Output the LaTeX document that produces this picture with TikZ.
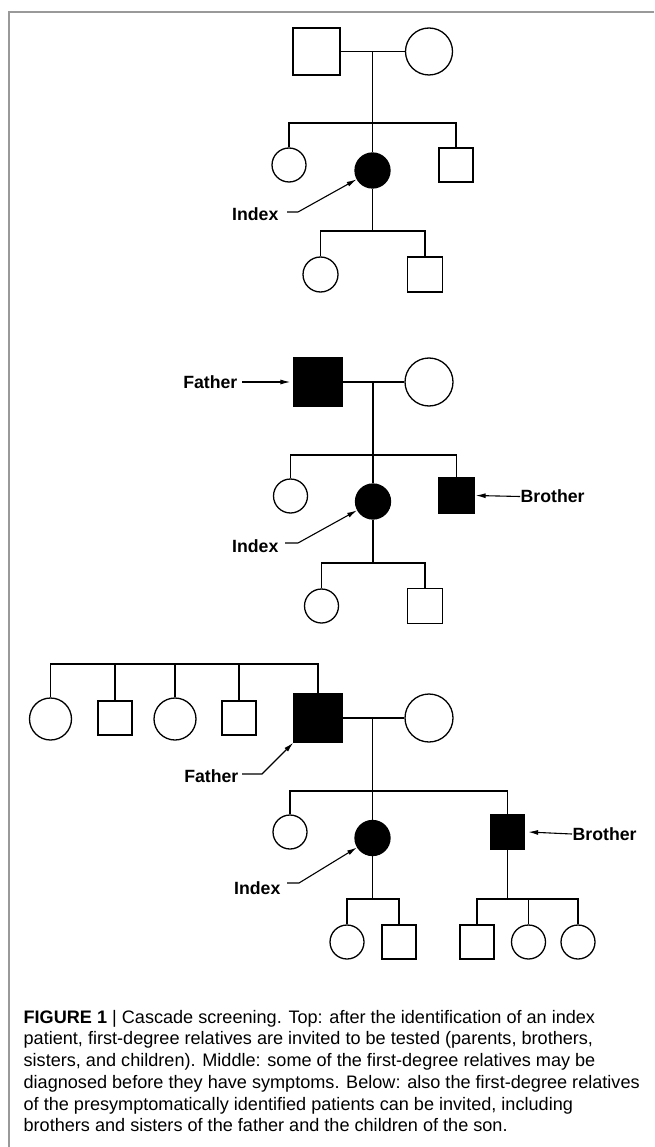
\documentclass[tikz,border=0pt]{standalone}
\usepackage{fontspec}
\setmainfont{Liberation Sans}
\usetikzlibrary{arrows.meta}

\begin{document}
\begin{tikzpicture}[x=1pt,y=-1pt,line width=1.3pt,
    male/.style={draw,rectangle,inner sep=0pt,minimum size=34pt},
    female/.style={draw,circle,inner sep=0pt,minimum size=34pt},
    sick/.style={fill=black},
    tag/.style={inner sep=0pt,font=\fontsize{17.7}{20}\selectfont\bfseries},
    pointer/.style={-{Latex[length=10pt,width=5pt]},line width=1.1pt}]
  \useasboundingbox (0,0) rectangle (654,1147);
  \draw[gray!80,line width=1.5pt] (654,12) -- (9,12) -- (9,1147);

  % top: index patient only
  \node[male,minimum size=47pt] (t-fa) at (316.5,51.5) {};
  \node[female,minimum size=47pt] (t-mo) at (429,51.5) {};
  \node[female] (t-sis) at (289,165) {};
  \node[female,sick,minimum size=35pt] (t-idx) at (372.5,170.5) {};
  \node[male] (t-bro) at (456,165) {};
  \node[female,minimum size=35pt] (t-c1) at (320.5,274.5) {};
  \node[male,minimum size=35pt] (t-c2) at (425,274.5) {};
  \coordinate (t-mar) at (372.5,51.5);
  \coordinate (t-sib) at (372.5,123);
  \coordinate (t-kid) at (372.5,231);
  \draw (t-fa) -- (t-mo);
  \draw (t-mar) -- (t-idx);
  \draw (t-sis.north) |- (t-sib) -| (t-bro.north);
  \draw (t-idx) -- (t-kid);
  \draw (t-c1.north) |- (t-kid) -| (t-c2.north);
  \node[tag,anchor=east] (t-lbl) at (279,214) {Index};
  \draw[pointer] ([xshift=8pt,yshift=2pt]t-lbl.east) -- ++(11,0) -- (t-idx);

  % middle: father and brother found too
  \node[male,sick,minimum size=48pt] (m-fa) at (318,382) {};
  \node[female,minimum size=48pt] (m-mo) at (429,382) {};
  \node[female] (m-sis) at (290.5,496) {};
  \node[female,sick,minimum size=35pt] (m-idx) at (373,501.5) {};
  \node[male,sick,minimum size=35pt] (m-bro) at (456.5,495.5) {};
  \node[female] (m-c1) at (321.5,606) {};
  \node[male,minimum size=35pt] (m-c2) at (425,606) {};
  \coordinate (m-mar) at (373,382);
  \coordinate (m-sib) at (373,455);
  \coordinate (m-kid) at (373,563);
  \draw (m-fa) -- (m-mo);
  \draw (m-mar) -- (m-idx);
  \draw (m-sis.north) |- (m-sib) -| (m-bro.north);
  \draw (m-idx) -- (m-kid);
  \draw (m-c1.north) |- (m-kid) -| (m-c2.north);
  \node[tag,anchor=east] (m-lbl) at (279,546) {Index};
  \draw[pointer] ([xshift=6pt,yshift=3pt]m-lbl.east) -- ++(13,0) -- (m-idx);
  \node[tag,anchor=east] (m-flbl) at (238,382) {Father};
  \draw[pointer,shorten >=3pt] ([xshift=4pt]m-flbl.east) -- (m-fa.west);
  \node[tag,anchor=west] (m-blbl) at (520,496.5) {Brother};
  \draw[pointer] (m-blbl.west) -- ([xshift=1pt]m-bro.east);

  % bottom: relatives of father and brother
  \node[female,minimum size=42pt] (b-a1) at (50.5,719) {};
  \node[male] (b-a2) at (115,718) {};
  \node[female,minimum size=42pt] (b-a3) at (175,719) {};
  \node[male] (b-a4) at (239,718) {};
  \node[male,sick,minimum size=48pt] (b-fa) at (318,718) {};
  \node[female,minimum size=48pt] (b-mo) at (429,718) {};
  \node[female] (b-sis) at (290,832) {};
  \node[female,sick,minimum size=35pt] (b-idx) at (372.5,838) {};
  \node[male,sick] (b-bro) at (507.5,832) {};
  \node[female] (b-c1) at (347,942) {};
  \node[male] (b-c2) at (399,942) {};
  \node[male] (b-n1) at (477,942) {};
  \node[female] (b-n2) at (528.5,942) {};
  \node[female] (b-n3) at (578,942) {};
  \coordinate (b-gp) at (318,664);
  \coordinate (b-mar) at (372.5,718);
  \coordinate (b-sib) at (372.5,791);
  \coordinate (b-kid) at (372.5,899);
  \coordinate (b-nep) at (507.5,899);
  \draw (b-a1.north) |- (b-gp) -- (b-fa.north);
  \foreach \i in {2,3,4}
    \draw (b-a\i.north) -- (b-a\i.north |- b-gp);
  \draw (b-fa) -- (b-mo);
  \draw (b-mar) -- (b-idx);
  \draw (b-sis.north) |- (b-sib) -| (b-bro.north);
  \draw (b-idx) -- (b-kid);
  \draw (b-c1.north) |- (b-kid) -| (b-c2.north);
  \draw (b-bro) -- (b-nep);
  \draw (b-n1.north) |- (b-nep) -| (b-n3.north);
  \draw (b-n2.north) -- (b-n2.north |- b-nep);
  \node[tag,anchor=east] (b-lbl) at (281,888) {Index};
  \draw[pointer] ([xshift=6pt,yshift=5pt]b-lbl.east) -- ++(12,0) -- (b-idx);
  \node[tag,anchor=east] (b-flbl) at (239,776) {Father};
  \draw[pointer] ([xshift=3pt,yshift=2pt]b-flbl.east) -- ++(20,0) -- (b-fa.south west);
  \node[tag,anchor=west] (b-blbl) at (572,834) {Brother};
  \draw[pointer] (b-blbl.west) -- ([xshift=3pt]b-bro.east);

  % caption
  \node[anchor=north west,inner sep=0pt,align=left,
    font=\fontsize{18.1}{21.7}\selectfont] (caption) at (23,1009.5)
    {\textbf{FIGURE 1} | Cascade screening. Top: after the identification of an index\\
     patient, first-degree relatives are invited to be tested (parents, brothers,\\
     sisters, and children). Middle: some of the first-degree relatives may be\\
     diagnosed before they have symptoms. Below: also the first-degree relatives\\
     of the presymptomatically identified patients can be invited, including\\
     brothers and sisters of the father and the children of the son.};
\end{tikzpicture}
\end{document}
